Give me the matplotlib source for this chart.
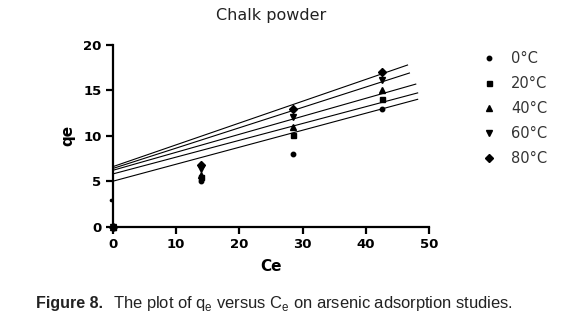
import matplotlib
matplotlib.use("Agg")
import matplotlib.pyplot as plt
import numpy as np

plt.rcParams['font.family'] = ['DejaVu Sans']
plt.rcParams['mathtext.fontset'] = 'custom'
plt.rcParams['mathtext.rm'] = 'Liberation Sans'

# Equilibrium data (Ce, qe) per temperature
temps = ["0°C", "20°C", "40°C", "60°C", "80°C"]
ce_0 = [0, 14, 28.5, 42.6]
qe_0 = [0, 5.0, 8.0, 13.0]
ce_20 = [0, 14, 28.5, 42.6]
qe_20 = [0, 5.5, 10.1, 14.0]
ce_40 = [0, 14, 28.5, 42.6]
qe_40 = [0, 5.7, 10.95, 15.0]
ce_60 = [0, 14, 28.5, 42.6]
qe_60 = [0, 6.4, 12.05, 16.1]
ce_80 = [0, 14, 28.5, 42.6]
qe_80 = [0, 6.8, 13.0, 17.0]

# Stray small reading near the origin
ce_stray = [-0.3]
qe_stray = [2.9]

# Linear fit lines: intercepts, slopes and x extent
fit_intercept = [5.0, 5.8, 6.2, 6.4, 6.6]
fit_slope = [0.187, 0.185, 0.198, 0.224, 0.240]
fit_xmax = [48.2, 48.2, 47.9, 46.9, 46.6]

markers = ["o", "s", "^", "v", "D"]
msizes = [3.2, 3.6, 3.8, 3.8, 3.8]

fig = plt.figure(figsize=(5.79, 3.30), dpi=100)
ax = fig.add_axes([0.1947, 0.313, 0.5463, 0.551])

ce_sets = [ce_0, ce_20, ce_40, ce_60, ce_80]
qe_sets = [qe_0, qe_20, qe_40, qe_60, qe_80]
for i, lab in enumerate(temps):
    ax.plot(ce_sets[i], qe_sets[i], linestyle="none", marker=markers[i],
            ms=msizes[i], color="black", label=lab, clip_on=False, zorder=3)
    xs = np.array([0, fit_xmax[i]])
    ax.plot(xs, fit_intercept[i] + fit_slope[i] * xs, color="black", lw=0.8,
            clip_on=False, zorder=2)
ax.plot(ce_stray, qe_stray, linestyle="none", marker="o", ms=1.6,
        color="black", clip_on=False, zorder=3)

ax.set_xlim(0, 50)
ax.set_ylim(0, 20)
ax.set_xticks([0, 10, 20, 30, 40, 50])
ax.set_yticks([0, 5, 10, 15, 20])
for s in ["top", "right"]:
    ax.spines[s].set_visible(False)
for s in ["left", "bottom"]:
    ax.spines[s].set_linewidth(1.6)
ax.tick_params(direction="out", length=5, width=1.6, labelsize=9.5, pad=3)
for t in ax.get_xticklabels() + ax.get_yticklabels():
    t.set_fontweight("bold")

ax.set_xlabel("Ce", fontsize=11, fontweight="bold", labelpad=6)
ax.set_ylabel("qe", fontsize=11, fontweight="bold", labelpad=6)
ax.set_title("Chalk powder", fontsize=11.5, color="#222222", pad=18)

leg = ax.legend(loc="upper left", bbox_to_anchor=(1.158, 0.996), frameon=False,
                fontsize=10.5, handlelength=0.6, handletextpad=1.2,
                labelspacing=0.68, borderaxespad=0)
for t in leg.get_texts():
    t.set_color("#333333")

# Figure caption
fig.text(0.063, 0.067, "Figure 8.", fontsize=11.5, fontweight="bold",
         family="Liberation Sans", color="#222222", va="baseline")
fig.text(0.195, 0.067,
         r"The plot of q$_\mathrm{e}$ versus C$_\mathrm{e}$ on arsenic adsorption studies.",
         fontsize=11.9, family="Liberation Sans", color="#222222", va="baseline")

fig.savefig("out.png", dpi=100)
